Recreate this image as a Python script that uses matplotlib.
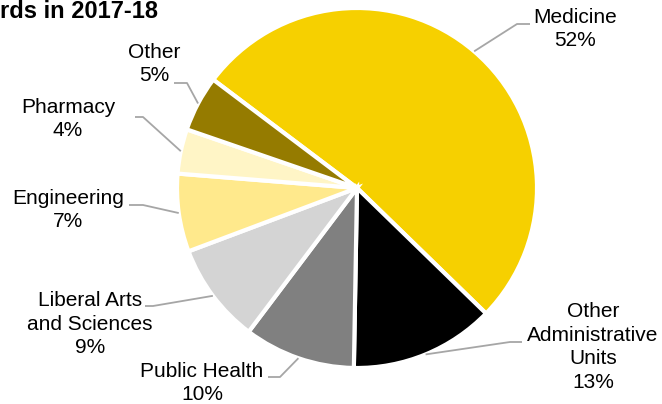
import matplotlib
matplotlib.use("Agg")
import matplotlib.pyplot as plt
import numpy as np

plt.rcParams['font.family'] = ['Liberation Sans', 'DejaVu Sans']

# ---- data ----
categories = ["Medicine", "Other\nAdministrative\nUnits", "Public Health",
              "Liberal Arts\nand Sciences", "Engineering", "Pharmacy", "Other"]
shares = [52, 13, 10, 9, 7, 4, 5]
colors = ["#F6D000", "#000000", "#808080", "#D4D4D4", "#FFE98C", "#FFF5C6", "#957B00"]
title_text = "rds in 2017-18"

# ---- layout (pixel coords, y from top) ----
W, H = 662, 404
cx, cy, R = 357, 188, 180
# label text centre, elbow point, end of horizontal segment
label_pos = [(575, 29), (593, 347), (202, 383), (90, 324), (68, 210), (68, 119), (154, 64)]
elbows = [(517, 24), (510, 342), (280, 377), (153, 306), (143, 205), (143, 117), (187, 83)]
hends = [(530, 24), (522, 342), (268, 377), (145, 306), (129, 205), (135, 117), (174, 83)]

fig = plt.figure(figsize=(W / 100, H / 100), dpi=100)
ax = fig.add_axes([0, 0, 1, 1])

def Y(y):
    return H - y

wedges, _ = ax.pie(shares, colors=colors, startangle=143, counterclock=False,
                   center=(cx, Y(cy)), radius=R, frame=True,
                   wedgeprops=dict(edgecolor="white", linewidth=3))
ax.set_xlim(0, W)
ax.set_ylim(0, H)
ax.set_aspect('equal')
ax.axis('off')

for w, cat, val, (tx, ty), (ex, ey), (hx, hy) in zip(wedges, categories, shares,
                                                       label_pos, elbows, hends):
    mid = np.deg2rad((w.theta1 + w.theta2) / 2)
    ax_x = cx + R * np.cos(mid)
    ax_y = Y(cy) + R * np.sin(mid)
    ax.plot([ax_x, ex, hx], [ax_y, Y(ey), Y(hy)], color="#A6A6A6", lw=1.3,
            solid_capstyle='butt', zorder=1)
    ax.text(tx, Y(ty), f"{cat}\n{val}%", ha='center', va='center', ma='center',
            fontsize=15, linespacing=1.33, color="#000000")

fig.text(0, 1 - 0.5 / H, title_text, ha='left', va='top', fontsize=17,
         fontweight='bold')

fig.savefig("out.png", dpi=100)
